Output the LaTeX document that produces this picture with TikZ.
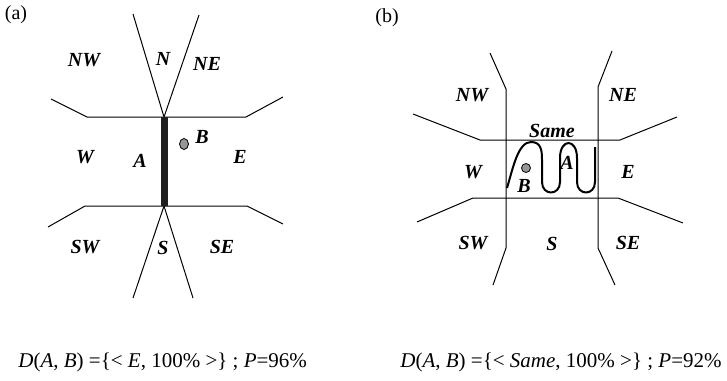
\documentclass[tikz,border=0pt]{standalone}
\usepackage{fontspec}
\setmainfont{Liberation Serif}
\usetikzlibrary{positioning}
\definecolor{DotGray}{RGB}{150,150,150}
\definecolor{BarBlack}{RGB}{30,30,30}

\begin{document}
\begin{tikzpicture}[x=0.5pt,y=-0.5pt,
	dirlabel/.style={font=\fontsize{10}{12}\selectfont\bfseries\itshape,inner sep=0pt},
	panellabel/.style={font=\fontsize{10}{12}\selectfont,inner sep=0pt},
	formula/.style={font=\fontsize{10.5}{12}\selectfont,inner sep=0pt,anchor=base west},
	border/.style={line width=0.5pt},
	objdot/.style={draw,fill=DotGray,line width=0.4pt}
	]
	\useasboundingbox (0,0) rectangle (727,380);
	
	% (a)
	\node[panellabel] (PA) at (16,15) {(a)};
	
	\draw[border] (133,14) -- (164,117) -- (199,15);
	\draw[border] (133,298) -- (164,206) -- (193,298);
	\draw[border] (51,99) -- (87,117) -- (246,117) -- (283,97);
	\draw[border] (48,227) -- (85,206) -- (247,206) -- (283,224);
	
	\fill[BarBlack] (161,117) rectangle (168,206);
	\draw[objdot] (184,144) ellipse [x radius=4.5,y radius=5.5];
	
	\node[dirlabel] (aNW) at (84,60) {NW};
	\node[dirlabel] (aN) at (163,59) {N};
	\node[dirlabel] (aNE) at (207,64) {NE};
	\node[dirlabel] (aW) at (85,157) {W};
	\node[dirlabel] (aA) at (140,161) {A};
	\node[dirlabel] (aB) at (202,137) {B};
	\node[dirlabel] (aE) at (240,157) {E};
	\node[dirlabel] (aSW) at (85,247) {SW};
	\node[dirlabel] (aS) at (163,248) {S};
	\node[dirlabel] (aSE) at (222,247) {SE};
	
	% (b)
	\node[panellabel] (PB) at (387,18) {(b)};
	
	\draw[border] (490,53) -- (506,89) -- (506,248) -- (493,285);
	\draw[border] (612,51) -- (598,87) -- (598,248) -- (615,285);
	\draw[border] (413,114) -- (480,140) -- (620,140) -- (677,117);
	\draw[border] (417,222) -- (473,198) -- (618,198) -- (683,223);
	
	\draw[line width=1pt,line join=round] (507,188)
		.. controls (513,168) and (518,142) .. (531,142)
		.. controls (541,142) and (542,150) .. (542,160)
		-- (542,182)
		.. controls (542,196) and (560,196) .. (560,182)
		-- (560,158)
		.. controls (560,138) and (577,138) .. (577,158)
		-- (577,182)
		.. controls (577,196) and (595,196) .. (595,182)
		-- (595,147);
	\draw[objdot] (526,168) circle [radius=4.5];
	
	\node[dirlabel] (bNW) at (472,95) {NW};
	\node[dirlabel] (bNE) at (623,95) {NE};
	\node[dirlabel] (bSame) at (552,131) {Same};
	\node[dirlabel] (bW) at (473,172) {W};
	\node[dirlabel] (bA) at (567,163) {A};
	\node[dirlabel] (bB) at (524,186) {B};
	\node[dirlabel] (bE) at (628,172) {E};
	\node[dirlabel] (bSW) at (473,243) {SW};
	\node[dirlabel] (bS) at (552,244) {S};
	\node[dirlabel] (bSE) at (628,243) {SE};
	
	% formulas
	\node[formula] (FA) at (18,367) {\textit{D}(\textit{A}, \textit{B}) =\{< \textit{E}, 100\% >\} ; \textit{P}=96\%};
	\node[formula,anchor=base east] (FB) at (722,367) {\textit{D}(\textit{A}, \textit{B}) =\{< \textit{Same}, 100\% >\} ; \textit{P}=92\%};
	
\end{tikzpicture}
\end{document}
